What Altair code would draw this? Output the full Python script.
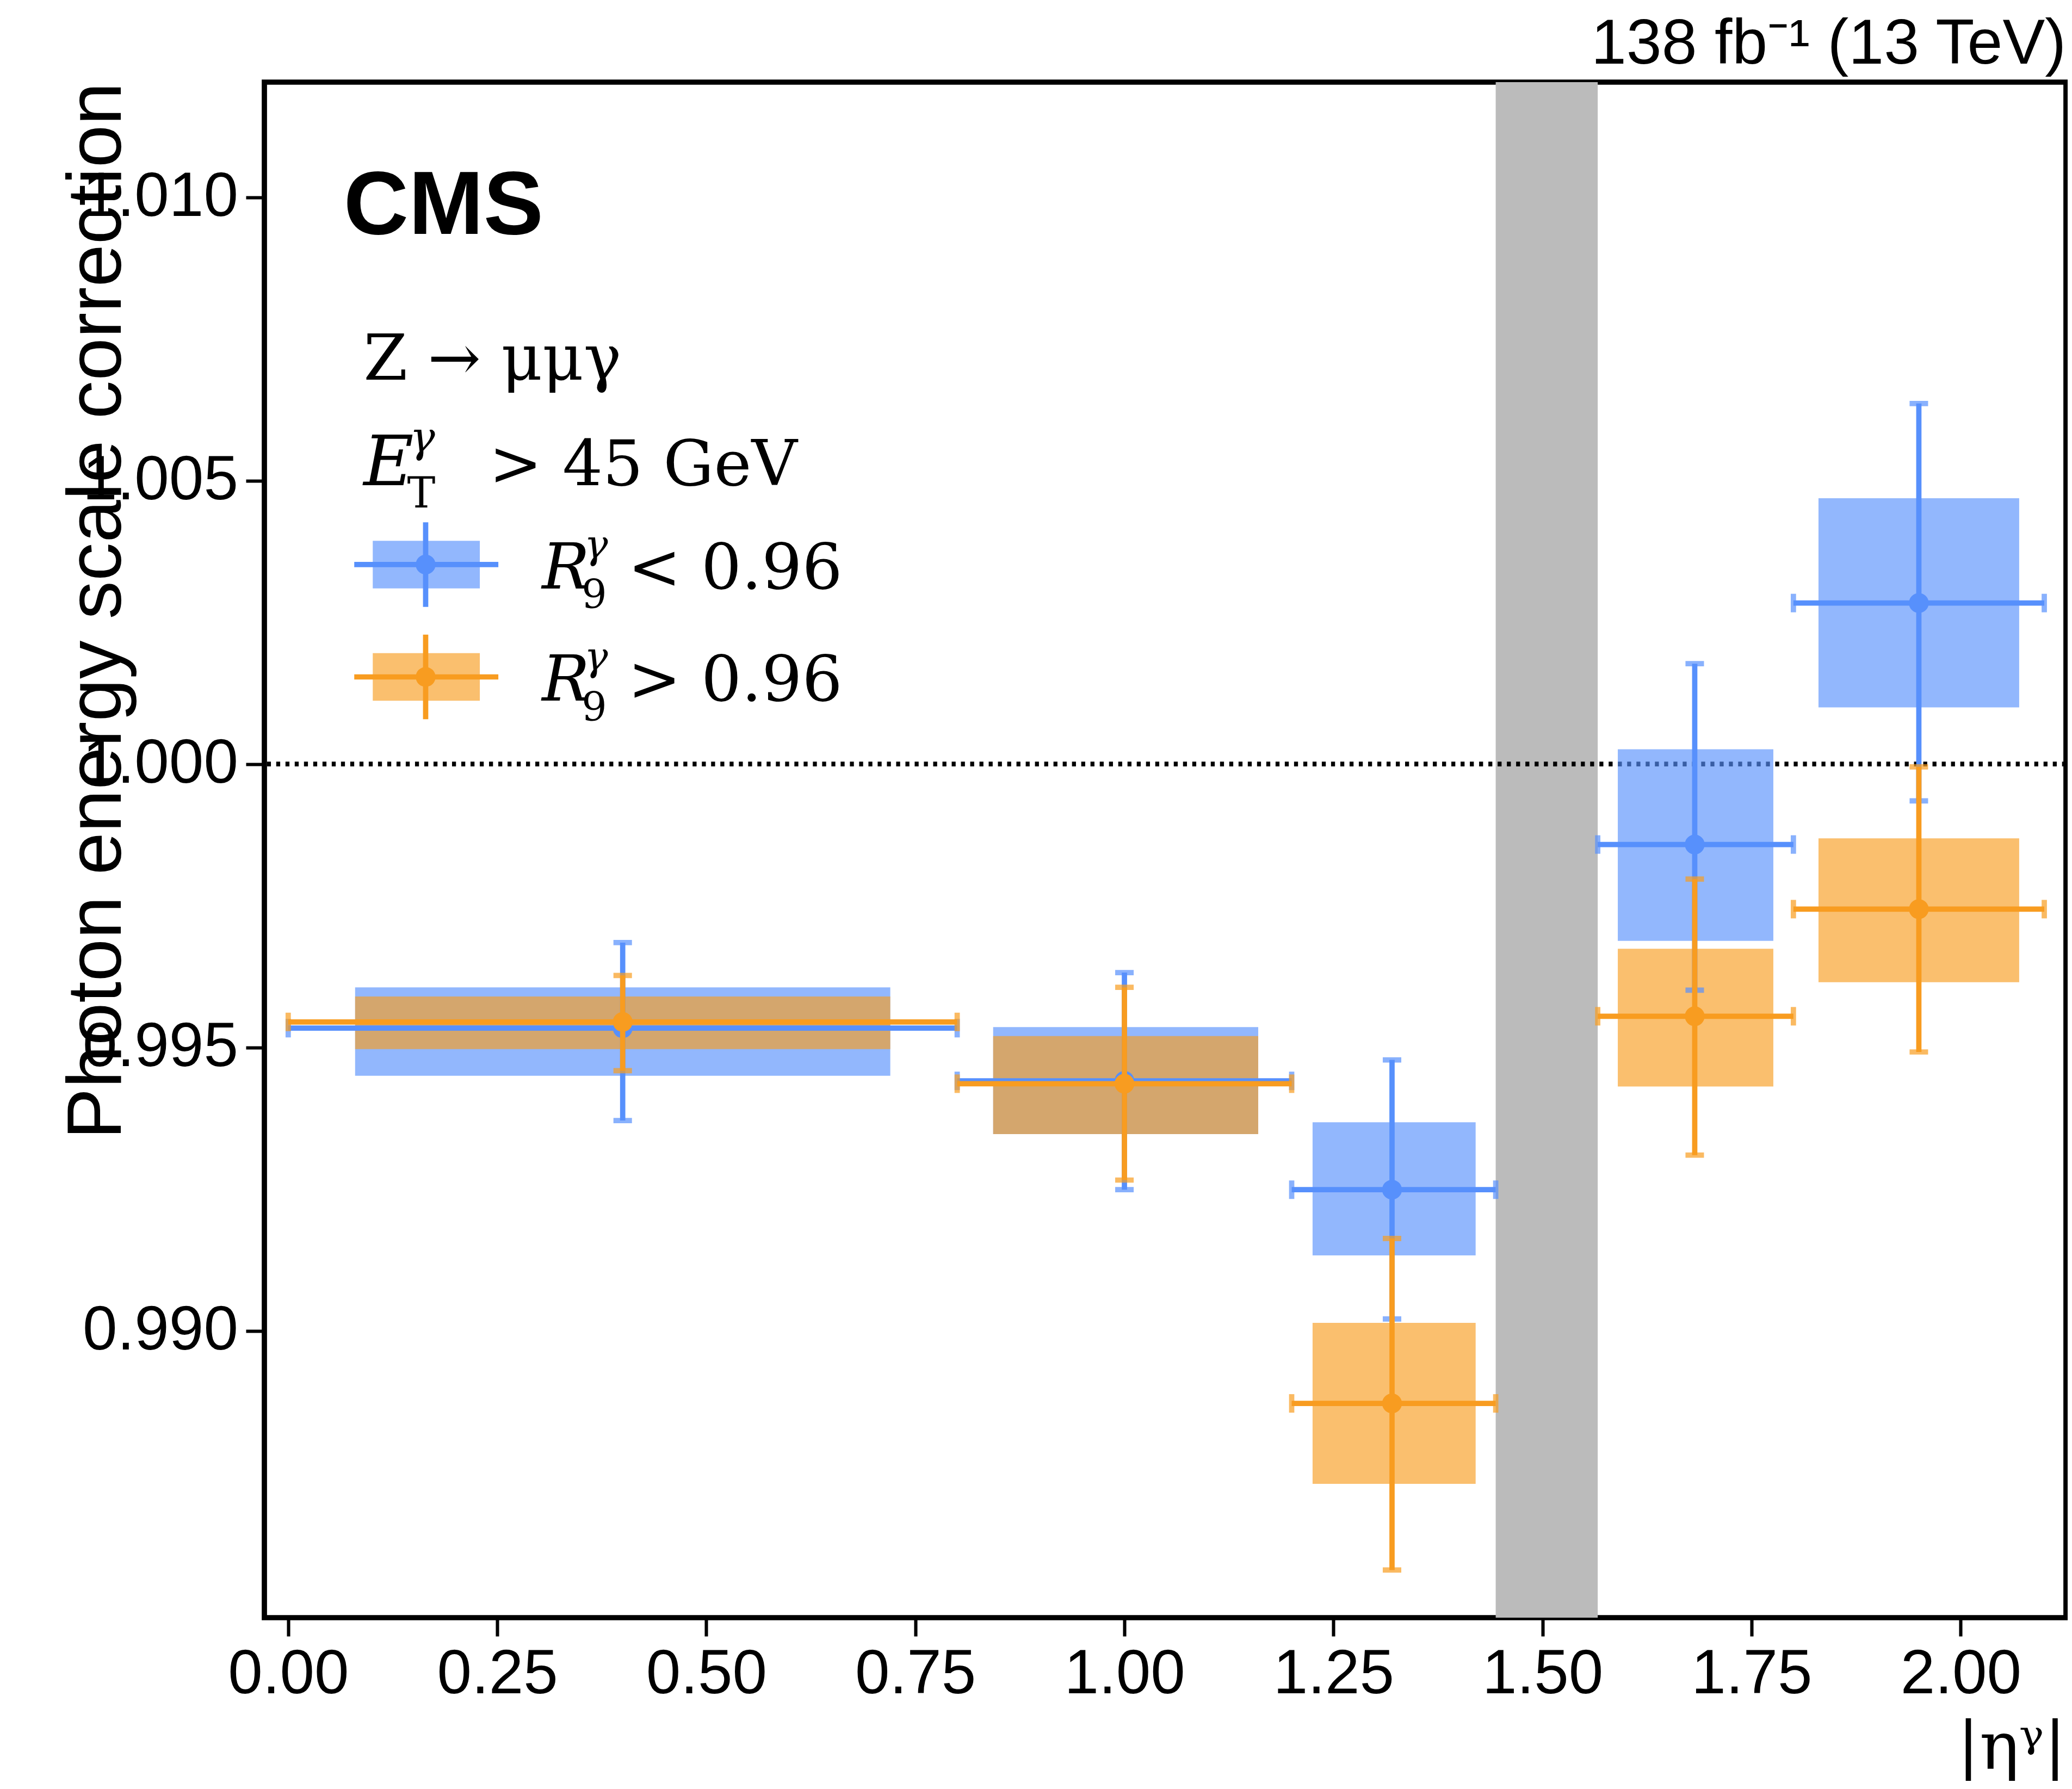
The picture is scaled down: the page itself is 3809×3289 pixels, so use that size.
import altair as alt
import pandas as pd

S = 2.43  # scale from reference display units to page pixels

# bin edges and centres in |eta|
bin_lo = [0.0, 0.8, 1.2, 1.566, 1.8]
bin_hi = [0.8, 1.2, 1.444, 1.8, 2.1]
centre = [0.40, 1.00, 1.32, 1.682, 1.95]
box_lo = [0.08, 0.843, 1.225, 1.59, 1.83]
box_hi = [0.72, 1.16, 1.42, 1.776, 2.07]

# R9 < 0.96
low_val = [0.99534, 0.99441, 0.99249, 0.99858, 1.00284]
low_slo = [0.99450, 0.99347, 0.99133, 0.99688, 1.00100]
low_shi = [0.99606, 0.99536, 0.99368, 1.00026, 1.00469]
low_elo = [0.99371, 0.99249, 0.99021, 0.99601, 0.99935]
low_ehi = [0.99685, 0.99632, 0.99478, 1.00177, 1.00636]
# R9 > 0.96
high_val = [0.99545, 0.99436, 0.98872, 0.99555, 0.99744]
high_slo = [0.99497, 0.99347, 0.98730, 0.99431, 0.99615]
high_shi = [0.99590, 0.99520, 0.99014, 0.99674, 0.99869]
high_elo = [0.99459, 0.99266, 0.98578, 0.99310, 0.99492]
high_ehi = [0.99627, 0.99606, 0.99163, 0.99797, 0.99995]

BLUE, ORANGE = "#5790fc", "#f89c20"
W, H = 3312, 2823
xs = alt.Scale(domain=[-0.0285, 2.126], nice=False, zero=False)
ys = alt.Scale(domain=[0.98494, 1.01203], nice=False, zero=False)
FONT = "Liberation Sans"
LW = 4 * S

rows = []
for name, v, slo, shi, elo, ehi in [("low", low_val, low_slo, low_shi, low_elo, low_ehi),
                                    ("high", high_val, high_slo, high_shi, high_elo, high_ehi)]:
    for i in range(5):
        rows.append(dict(s=name, bl=bin_lo[i], bh=bin_hi[i], c=centre[i], xl=box_lo[i], xh=box_hi[i],
                         v=v[i], sl=slo[i], sh=shi[i], el=elo[i], eh=ehi[i]))
df = pd.DataFrame(rows)

X = lambda f, **k: alt.X(f, type="quantitative", scale=xs, **k)
Y = lambda f, **k: alt.Y(f, type="quantitative", scale=ys, **k)

layers = []
band = alt.Chart(pd.DataFrame({"a": [1.444], "b": [1.566]})).mark_rect(color="#bbbbbb").encode(
    x=X("a", axis=alt.Axis(values=[0, 0.25, 0.5, 0.75, 1.0, 1.25, 1.5, 1.75, 2.0], format=".2f",
                           title="|ηᵞ|", titleAnchor="end", titleFont="DejaVu Serif",
                           titleFontSize=50 * S, titleFontWeight="normal", titlePadding=8 * S,
                           labelFont=FONT, labelFontSize=47 * S, labelPadding=6 * S, labelLimit=0,
                           tickSize=14 * S, tickWidth=2.5 * S, tickColor="black",
                           domain=False, grid=False, labelColor="black", titleColor="black")),
    x2="b", y=alt.value(0), y2=alt.value(H))
layers.append(band)
layers.append(alt.Chart(pd.DataFrame({"y": [1.0]})).mark_rule(
    color="black", strokeDash=[3 * S, 4 * S], strokeWidth=3.5 * S).encode(
    y=Y("y", axis=alt.Axis(values=[0.990, 0.995, 1.000, 1.005, 1.010], format=".3f",
                           title="Photon energy scale correction", titleAnchor="end",
                           titleFont=FONT, titleFontSize=58 * S, titleFontWeight="normal",
                           titlePadding=14 * S, labelFont=FONT, labelFontSize=47 * S, labelLimit=0,
                           labelPadding=6 * S, tickSize=14 * S, tickWidth=2.5 * S,
                           tickColor="black", domain=False, grid=False,
                           labelColor="black", titleColor="black"))))

for name, col in [("low", BLUE), ("high", ORANGE)]:
    d = alt.Chart(df[df.s == name])
    layers.append(d.mark_rect(color=col, opacity=0.65).encode(x=X("xl"), x2="xh", y=Y("sl"), y2="sh"))
for name, col in [("low", BLUE), ("high", ORANGE)]:
    d = alt.Chart(df[df.s == name])
    layers += [
        d.mark_rule(color=col, strokeWidth=LW).encode(x=X("c"), y=Y("el"), y2="eh"),
        d.mark_rule(color=col, strokeWidth=LW).encode(x=X("bl"), x2="bh", y=Y("v")),
        d.mark_tick(color=col, thickness=LW, size=14 * S, orient="horizontal").encode(x=X("c"), y=Y("el")),
        d.mark_tick(color=col, thickness=LW, size=14 * S, orient="horizontal").encode(x=X("c"), y=Y("eh")),
        d.mark_tick(color=col, thickness=LW, size=14 * S, orient="vertical").encode(x=X("bl"), y=Y("v")),
        d.mark_tick(color=col, thickness=LW, size=14 * S, orient="vertical").encode(x=X("bh"), y=Y("v")),
        d.mark_circle(color=col, opacity=1, size=(15 * S) ** 2).encode(x=X("c"), y=Y("v")),
    ]

def txt(t, x, y, size, font=FONT, weight="normal", align="left", style="normal"):
    return alt.Chart(pd.DataFrame({"t": [t]})).mark_text(
        font=font, fontSize=size * S, fontWeight=weight, align=align, baseline="alphabetic",
        fontStyle=style, color="black").encode(x=alt.value(x * S), y=alt.value(y * S), text="t")

# annotations, in reference-display units relative to plot origin (200, 62)
layers += [
    txt("CMS", 60, 115, 68, weight="bold"),
    txt("138 fb⁻¹ (13 TeV)", 1363, -14, 48, align="right"),
    txt("Z → μμγ", 75, 225, 48, font="DejaVu Serif"),
    txt("E", 75, 305, 52, font="DejaVu Serif", style="italic"),
    txt("γ", 110, 280, 32, font="DejaVu Serif", style="italic"),
    txt("T", 108, 322, 32, font="DejaVu Serif"),
    txt("> 45 GeV", 170, 305, 48, font="DejaVu Serif"),
]
for yy, col, sign in [(365, BLUE, "<"), (450, ORANGE, ">")]:
    leg = pd.DataFrame({"a": [0]})
    layers += [
        alt.Chart(leg).mark_rect(color=col, opacity=0.65).encode(
            x=alt.value(82 * S), x2=alt.value(163 * S), y=alt.value((yy - 18) * S), y2=alt.value((yy + 18) * S)),
        alt.Chart(leg).mark_rule(color=col, strokeWidth=LW).encode(
            x=alt.value(68 * S), x2=alt.value(177 * S), y=alt.value(yy * S)),
        alt.Chart(leg).mark_rule(color=col, strokeWidth=LW).encode(
            x=alt.value(122 * S), y=alt.value((yy - 32) * S), y2=alt.value((yy + 32) * S)),
        alt.Chart(leg).mark_circle(color=col, opacity=1, size=(15 * S) ** 2).encode(
            x=alt.value(122 * S), y=alt.value(yy * S)),
        txt("R", 210, yy + 18, 48, font="DejaVu Serif", style="italic"),
        txt("γ", 242, yy - 5, 30, font="DejaVu Serif", style="italic"),
        txt("9", 240, yy + 33, 30, font="DejaVu Serif"),
        txt(sign + " 0.96", 275, yy + 18, 48, font="DejaVu Serif"),
    ]

chart = alt.layer(*layers).properties(
    width=W, height=H, autosize=alt.AutoSizeParams(type="none"),
    padding={"left": 478, "top": 143, "right": 3, "bottom": 300},
    background="white",
).configure_view(stroke="black", strokeWidth=4 * S)

chart.save("out.html", embed_options={"renderer": "svg", "actions": False})
